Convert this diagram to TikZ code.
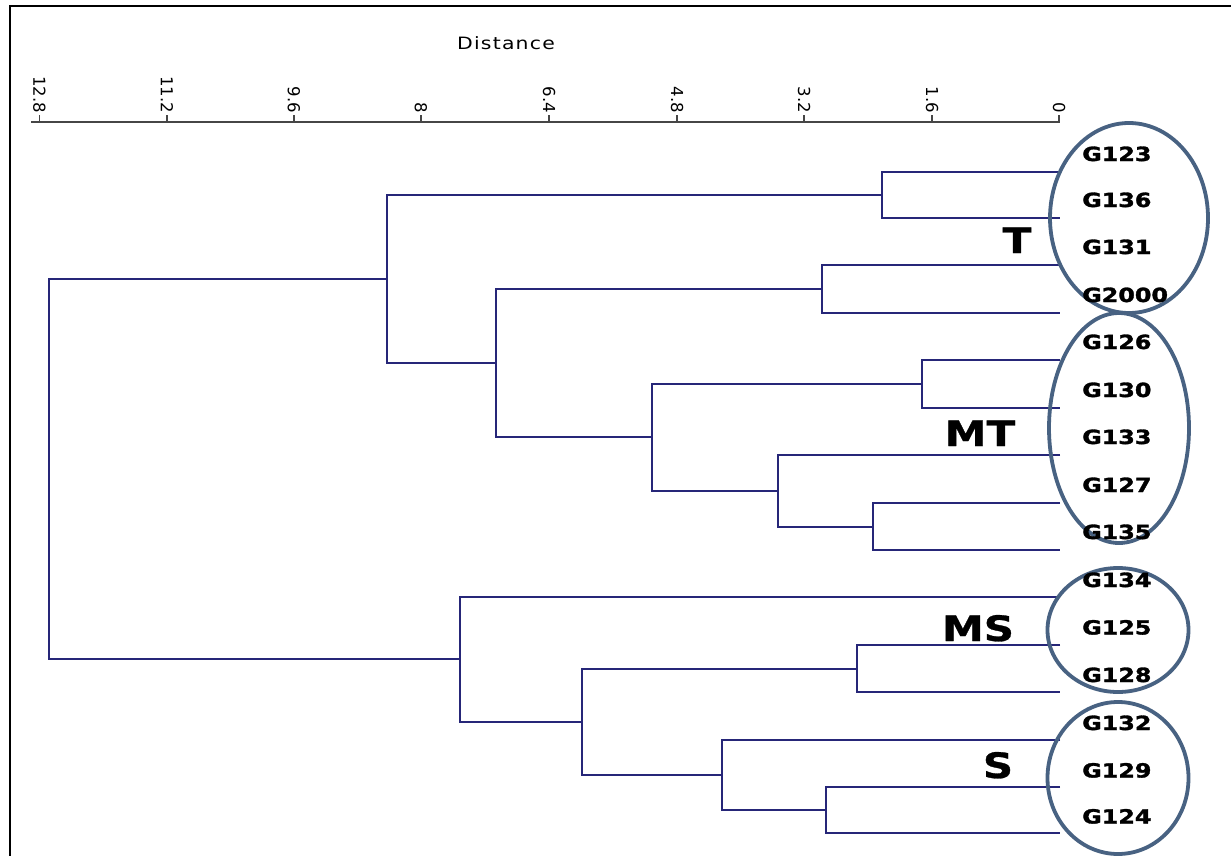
\documentclass[tikz,border=0pt]{standalone}
\usepackage{fontspec}
\setmainfont{DejaVu Sans}
\newfontfamily\axisfont{DejaVu Sans}
\newfontfamily\titlefont[LetterSpace=6]{DejaVu Sans}
\newfontfamily\leaffont[BoldFeatures={FakeBold=1.6}]{DejaVu Sans}
\newfontfamily\groupfont[BoldFeatures={FakeBold=0.8}]{DejaVu Sans}
\usetikzlibrary{shapes.geometric}

\definecolor{treeblue}{RGB}{38,38,120}
\definecolor{ringblue}{RGB}{72,98,130}
\definecolor{axisgray}{RGB}{70,70,70}

\begin{document}
\begin{tikzpicture}[x=1pt,y=-1pt,
  frameline/.style={draw=black,line width=2.5pt},
  branch/.style={draw=treeblue,line width=2pt},
  axisline/.style={draw=axisgray,line width=1.8pt},
  ticklabel/.style={font=\axisfont\fontsize{16.5}{16.5}\selectfont,rotate=-90,anchor=east,inner sep=0pt},
  leaflabel/.style={font=\leaffont\bfseries\fontsize{19.5}{19.5}\selectfont,anchor=base west,inner sep=0pt,xscale=1.22},
  grouplabel/.style={font=\groupfont\bfseries\fontsize{35}{35}\selectfont,anchor=base,inner sep=0pt,xscale=1.2},
  ring/.style={ellipse,draw=ringblue,line width=3.8pt,inner sep=0pt}]

\useasboundingbox[fill=white] (0,0) rectangle (1231,856);

% outer frame (top and left)
\coordinate (fTL) at (10,6);
\coordinate (fTR) at (1231,6);
\coordinate (fBL) at (10,856);
\draw[frameline] (fTR) -- (fTL) -- (fBL);

% distance axis
\node[font=\titlefont\fontsize{17}{17}\selectfont,xscale=1.2] (dist) at (506,43) {Distance};
\coordinate (ax0) at (31,122);
\coordinate (ax1) at (1060,122);
\draw[axisline] (ax0) -- (ax1);
\foreach \v/\x [count=\i] in {12.8/39.5,11.2/167,9.6/294,8/421,6.4/549,4.8/677,3.2/804,1.6/932,0/1059}{
  \draw[axisline,line width=1.5pt] (\x,122) -- (\x,115);
  \node[ticklabel] (tick\i) at (\x,113) {\v};
}

% leaf ends
\foreach \y [count=\i] in {172,218,265,313,360,408,455,503,550,597,645,692,740,787,833}{
  \coordinate (L\i) at (1060,\y);
}

% internal nodes (height, midpoint of children)
\coordinate (a) at (882,195);
\coordinate (b) at (822,289);
\coordinate (c) at (922,384);
\coordinate (d) at (873,527);
\coordinate (e) at (778,491);
\coordinate (f) at (652,437);
\coordinate (g) at (496,363);
\coordinate (h) at (387,279);
\coordinate (i) at (857,669);
\coordinate (j) at (826,810);
\coordinate (k) at (722,775);
\coordinate (l) at (582,722);
\coordinate (m) at (460,659);
\coordinate (r) at (49,469);

% dendrogram branches
\draw[branch] (L1) -| (a) |- (L2);
\draw[branch] (L3) -| (b) |- (L4);
\draw[branch] (L5) -| (c) |- (L6);
\draw[branch] (L8) -| (d) |- (L9);
\draw[branch] (L7) -| (e) |- (d);
\draw[branch] (c) -| (f) |- (e);
\draw[branch] (b) -| (g) |- (f);
\draw[branch] (a) -| (h) |- (g);
\draw[branch] (L11) -| (i) |- (L12);
\draw[branch] (L14) -| (j) |- (L15);
\draw[branch] (L13) -| (k) |- (j);
\draw[branch] (i) -| (l) |- (k);
\draw[branch] (L10) -| (m) |- (l);
\draw[branch] (h) -| (r) |- (m);

% group rings
\node[ring,minimum width=158pt,minimum height=190pt] (ringT) at (1129,218) {};
\node[ring,minimum width=140pt,minimum height=230pt] (ringMT) at (1119,428) {};
\node[ring,minimum width=141pt,minimum height=124pt] (ringMS) at (1118,630) {};
\node[ring,minimum width=141pt,minimum height=152pt] (ringS) at (1118,778) {};

% group names
\node[grouplabel] (gT) at (1017,253) {T};
\node[grouplabel] (gMT) at (980,446) {MT};
\node[grouplabel] (gMS) at (978,641) {MS};
\node[grouplabel] (gS) at (998,778) {S};

% leaf names
\foreach \n/\y [count=\i] in {G123/161,G136/207,G131/254,G2000/302,G126/349,G130/397,G133/444,G127/492,G135/539,G134/587,G125/634.5,G128/682,G132/730,G129/777.5,G124/823.5}{
  \node[leaflabel] (lab\i) at (1082,\y) {\n};
}
\end{tikzpicture}
\end{document}
